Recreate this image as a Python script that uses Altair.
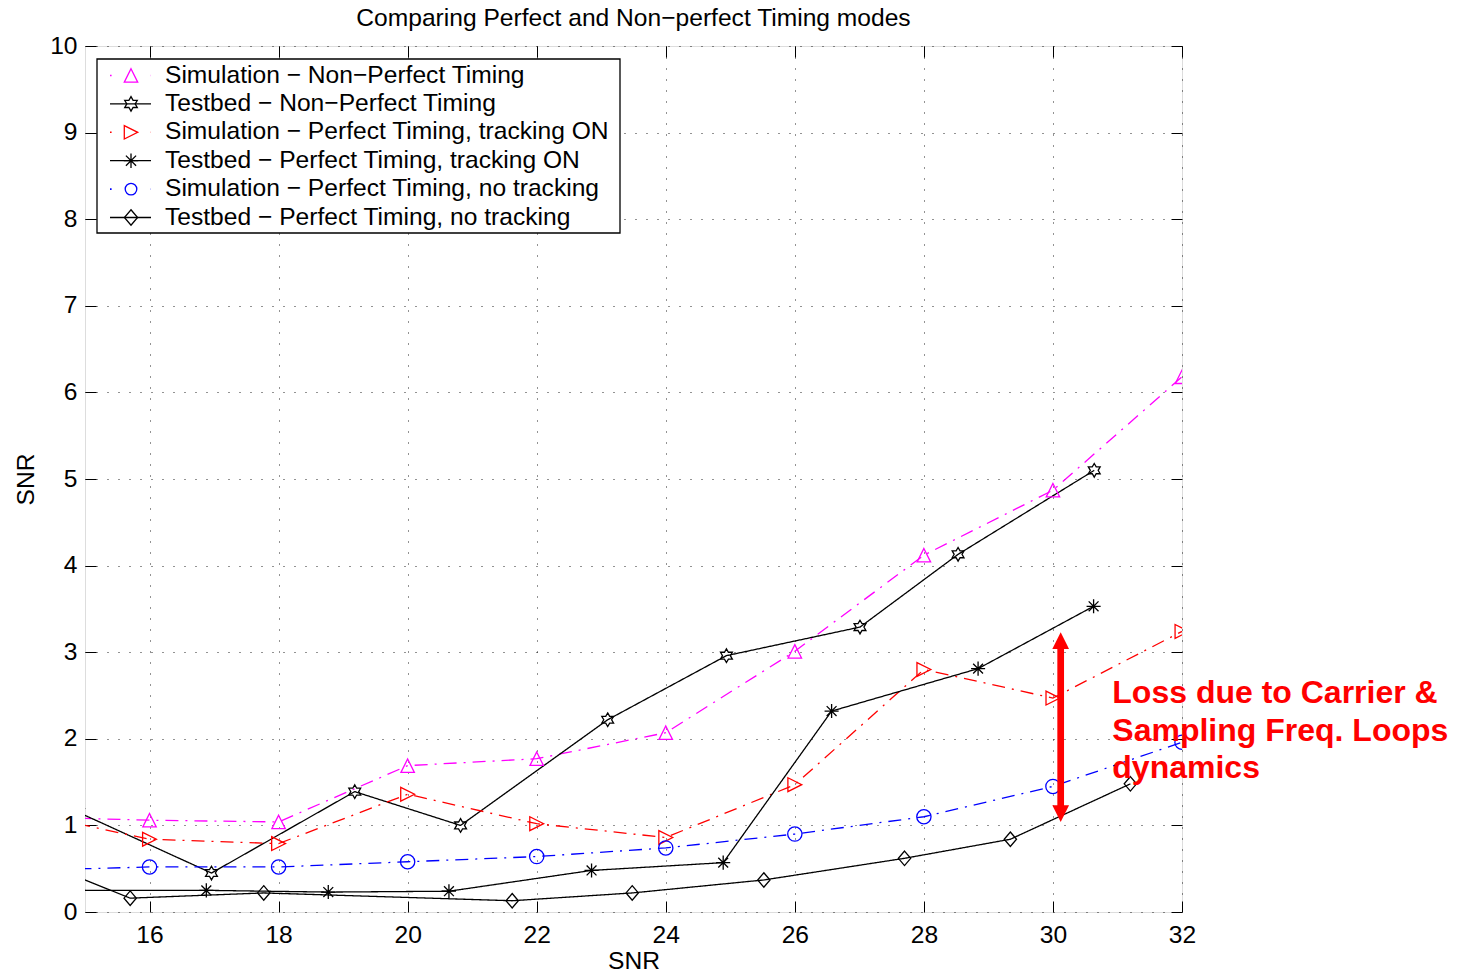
import altair as alt
import pandas as pd

FONT = "Liberation Sans, Arial, Helvetica, sans-serif"
FS = 24.6  # text size used for title, axes and legend
W, H = 1097, 866  # plot area in pixels

# ---- data -----------------------------------------------------------------
series_names = [
    "Simulation \u2212 Non\u2212Perfect Timing",
    "Testbed \u2212 Non\u2212Perfect Timing",
    "Simulation \u2212 Perfect Timing, tracking ON",
    "Testbed \u2212 Perfect Timing, tracking ON",
    "Simulation \u2212 Perfect Timing, no tracking",
    "Testbed \u2212 Perfect Timing, no tracking",
]

# simulated curves share one SNR grid (first point sits left of the shown range)
sim_snr = [14, 16, 18, 20, 22, 24, 26, 28, 30, 32]
sim_nonperfect = [1.10, 1.06, 1.04, 1.69, 1.77, 2.07, 3.01, 4.12, 4.87, 6.18]
sim_track_on = [1.16, 0.84, 0.79, 1.36, 1.02, 0.86, 1.47, 2.80, 2.47, 3.24]
sim_no_track = [0.48, 0.52, 0.52, 0.58, 0.64, 0.74, 0.90, 1.10, 1.45, 1.96]

# testbed curves at the SNR values actually measured
tb_nonperfect_snr = [14.9, 16.96, 19.18, 20.82, 23.10, 24.94, 27.01, 28.53, 30.64]
tb_nonperfect = [1.15, 0.45, 1.39, 1.00, 2.22, 2.96, 3.29, 4.13, 5.10]
tb_track_on_snr = [14.9, 16.88, 18.77, 20.64, 22.85, 24.89, 26.57, 28.84, 30.63]
tb_track_on = [0.25, 0.25, 0.23, 0.24, 0.48, 0.57, 2.32, 2.81, 3.53]
tb_no_track_snr = [13.6, 15.70, 17.77, 21.62, 23.48, 25.52, 27.70, 29.34, 31.20]
tb_no_track = [0.79, 0.16, 0.22, 0.13, 0.22, 0.37, 0.62, 0.84, 1.48]

x_ticks = [16, 18, 20, 22, 24, 26, 28, 30, 32]
y_ticks = [0, 1, 2, 3, 4, 5, 6, 7, 8, 9, 10]

# annotation: double arrow between the tracking-ON curves and its label
arrow_snr = 30.12
arrow_low = 1.04
arrow_high = 3.23
note_snr = 30.92
note_value = 2.41
note_lines = ["Loss due to Carrier &", "Sampling Freq. Loops", "dynamics"]

title_text = "Comparing Perfect and Non\u2212perfect Timing modes"

# ---- styles ---------------------------------------------------------------
TRI_UP = "M0,-1L1,1L-1,1Z"
TRI_RIGHT = "M-1,-1L1,0L-1,1Z"
HEXAGRAM = ("M0,-1L0.2887,-0.5L0.866,-0.5L0.577,0L0.866,0.5L0.2887,0.5L0,1"
            "L-0.2887,0.5L-0.866,0.5L-0.577,0L-0.866,-0.5L-0.2887,-0.5Z")
ASTERISK = "M-1,0L1,0M0,-1L0,1M-0.7,-0.7L0.7,0.7M-0.7,0.7L0.7,-0.7"
DIAMOND = "M0,-1L0.85,0L0,1L-0.85,0Z"

colors = ["#ff00ff", "#000000", "#ff0000", "#000000", "#0000ff", "#000000"]
dash_sim = [13, 7, 2, 7]
solid = [1, 0]
dashes = [dash_sim, solid, dash_sim, solid, dash_sim, solid]
shapes = [TRI_UP, HEXAGRAM, TRI_RIGHT, ASTERISK, "circle", DIAMOND]
sizes = [180, 210, 180, 210, 135, 240]
LW = 1.3

# ---- long table -----------------------------------------------------------
rows = []
for name, xs, ys in [
    (series_names[0], sim_snr, sim_nonperfect),
    (series_names[1], tb_nonperfect_snr, tb_nonperfect),
    (series_names[2], sim_snr, sim_track_on),
    (series_names[3], tb_track_on_snr, tb_track_on),
    (series_names[4], sim_snr, sim_no_track),
    (series_names[5], tb_no_track_snr, tb_no_track),
]:
    for a, b in zip(xs, ys):
        rows.append({"series": name, "snr": a, "value": b})
df = pd.DataFrame(rows)

x_scale = alt.Scale(domain=[15, 32], nice=False, zero=False)
y_scale = alt.Scale(domain=[0, 10], nice=False, zero=False)

color_enc = alt.Color("series:N", scale=alt.Scale(domain=series_names, range=colors), legend=None)
dash_enc = alt.StrokeDash("series:N", scale=alt.Scale(domain=series_names, range=dashes), legend=None)
shape_enc = alt.Shape("series:N", scale=alt.Scale(domain=series_names, range=shapes), legend=None)
size_enc = alt.Size("series:N", scale=alt.Scale(domain=series_names, range=sizes), legend=None)

base = alt.Chart(df)

grid_common = dict(grid=True, gridColor="#000000", gridDash=[1, 10], gridWidth=1,
                   gridOpacity=0.85, ticks=False, domain=False,
                   labelFont=FONT, labelFontSize=FS, labelColor="#000000",
                   titleFont=FONT, titleFontSize=FS, titleFontWeight="normal",
                   titleColor="#000000")

lines = base.mark_line(clip=True, strokeWidth=LW).encode(
    x=alt.X("snr:Q", scale=x_scale,
            axis=alt.Axis(values=x_ticks, labelPadding=11, labelFlush=False,
                          labelAngle=0, title="SNR", titleY=56,
                          titleBaseline="alphabetic", **grid_common)),
    y=alt.Y("value:Q", scale=y_scale,
            axis=alt.Axis(values=y_ticks, labelPadding=8, labelFlush=False,
                          title="SNR", titleX=-52, titleY=H / 2, titleAngle=-90,
                          titleBaseline="alphabetic", titleAlign="center",
                          **grid_common)),
    color=color_enc,
    strokeDash=dash_enc,
)

points = base.mark_point(clip=True, filled=False, strokeWidth=LW, opacity=1).encode(
    x=alt.X("snr:Q", scale=x_scale, axis=None),
    y=alt.Y("value:Q", scale=y_scale, axis=None),
    color=color_enc,
    shape=shape_enc,
    size=size_enc,
)

# inward-pointing tick marks on all four sides
tick_style = dict(labels=False, domain=False, grid=False, ticks=True, tickSize=11,
                  tickColor="#000000", tickWidth=1, title=None)
ticks_a = base.mark_point(opacity=0).encode(
    x=alt.X("snr:Q", scale=x_scale, axis=alt.Axis(orient="top", offset=-H, values=x_ticks, **tick_style)),
    y=alt.Y("value:Q", scale=y_scale, axis=alt.Axis(orient="right", offset=-W, values=y_ticks, **tick_style)),
)
ticks_b = base.mark_point(opacity=0).encode(
    x=alt.X("snr:Q", scale=x_scale, axis=alt.Axis(orient="bottom", offset=-H, values=x_ticks, **tick_style)),
    y=alt.Y("value:Q", scale=y_scale, axis=alt.Axis(orient="left", offset=-W, values=y_ticks, **tick_style)),
)

# double-headed arrow
head_px = 16.7
head_units = head_px * (y_scale.domain[1] - y_scale.domain[0]) / H
arrow_df = pd.DataFrame({"snr": [arrow_snr], "lo": [arrow_low], "hi": [arrow_high]})
arrow_base = alt.Chart(arrow_df)
shaft = arrow_base.transform_calculate(
    lo_in=f"datum.lo + {head_units * 0.9}", hi_in=f"datum.hi - {head_units * 0.9}"
).mark_rule(color="#ff0000", strokeWidth=6.7, strokeCap="butt").encode(
    x=alt.X("snr:Q", scale=x_scale, axis=None),
    y=alt.Y("lo_in:Q", scale=y_scale, axis=None),
    y2="hi_in:Q",
)
head_up = arrow_base.mark_point(shape="M0,0L1,2L-1,2Z", size=head_px ** 2, filled=True,
                                color="#ff0000", opacity=1, strokeWidth=0).encode(
    x=alt.X("snr:Q", scale=x_scale, axis=None),
    y=alt.Y("hi:Q", scale=y_scale, axis=None),
)
head_down = arrow_base.mark_point(shape="M0,0L1,-2L-1,-2Z", size=head_px ** 2, filled=True,
                                  color="#ff0000", opacity=1, strokeWidth=0).encode(
    x=alt.X("snr:Q", scale=x_scale, axis=None),
    y=alt.Y("lo:Q", scale=y_scale, axis=None),
)

note_df = pd.DataFrame({"snr": [note_snr], "value": [note_value], "label": ["\n".join(note_lines)]})
note = alt.Chart(note_df).mark_text(
    align="left", baseline="alphabetic", font=FONT, fontSize=32, fontWeight="bold",
    color="#ff0000", lineBreak="\n", lineHeight=37.5,
).encode(
    x=alt.X("snr:Q", scale=x_scale, axis=None),
    y=alt.Y("value:Q", scale=y_scale, axis=None),
    text="label:N",
)

# legend box drawn in the upper-left corner of the plot
one = alt.Data(values=[{}])
legend_layers = [
    alt.Chart(one).mark_rect(fill="white", stroke="black", strokeWidth=1.3).encode(
        x=alt.value(12), x2=alt.value(535), y=alt.value(13), y2=alt.value(187))
]
for i, name in enumerate(series_names):
    yy = 29.5 + 28.4 * i
    is_sim = name.startswith("Simulation")
    legend_layers.append(
        alt.Chart(one).mark_rule(
            color=colors[i], strokeWidth=1.6 if is_sim else LW,
            strokeDash=[1.6, 39.2] if is_sim else solid,
        ).encode(x=alt.value(25), x2=alt.value(66), y=alt.value(yy))
    )
    legend_layers.append(
        alt.Chart(one).mark_point(shape=shapes[i], size=sizes[i], filled=False,
                                  color=colors[i], strokeWidth=LW, opacity=1).encode(
            x=alt.value(46), y=alt.value(yy))
    )
    legend_layers.append(
        alt.Chart(one).mark_text(text=name, align="left", baseline="middle", font=FONT,
                                 fontSize=FS, color="#000000").encode(
            x=alt.value(80), y=alt.value(yy))
    )

chart = alt.layer(
    lines, ticks_a, ticks_b, points, shaft, head_up, head_down, note, *legend_layers
).resolve_axis(
    x="independent", y="independent"
).properties(
    width=W, height=H,
    autosize=alt.AutoSizeParams(type="none"),
    padding={"left": 85, "top": 46, "right": 286, "bottom": 61},
    title=alt.TitleParams(title_text, font=FONT, fontSize=FS, fontWeight="normal",
                          color="#000000", anchor="middle", offset=1),
).configure_view(
    stroke="#000000", strokeWidth=1
).configure(
    background="white"
)

chart.save("out.html", embed_options={"renderer": "svg", "actions": False})
